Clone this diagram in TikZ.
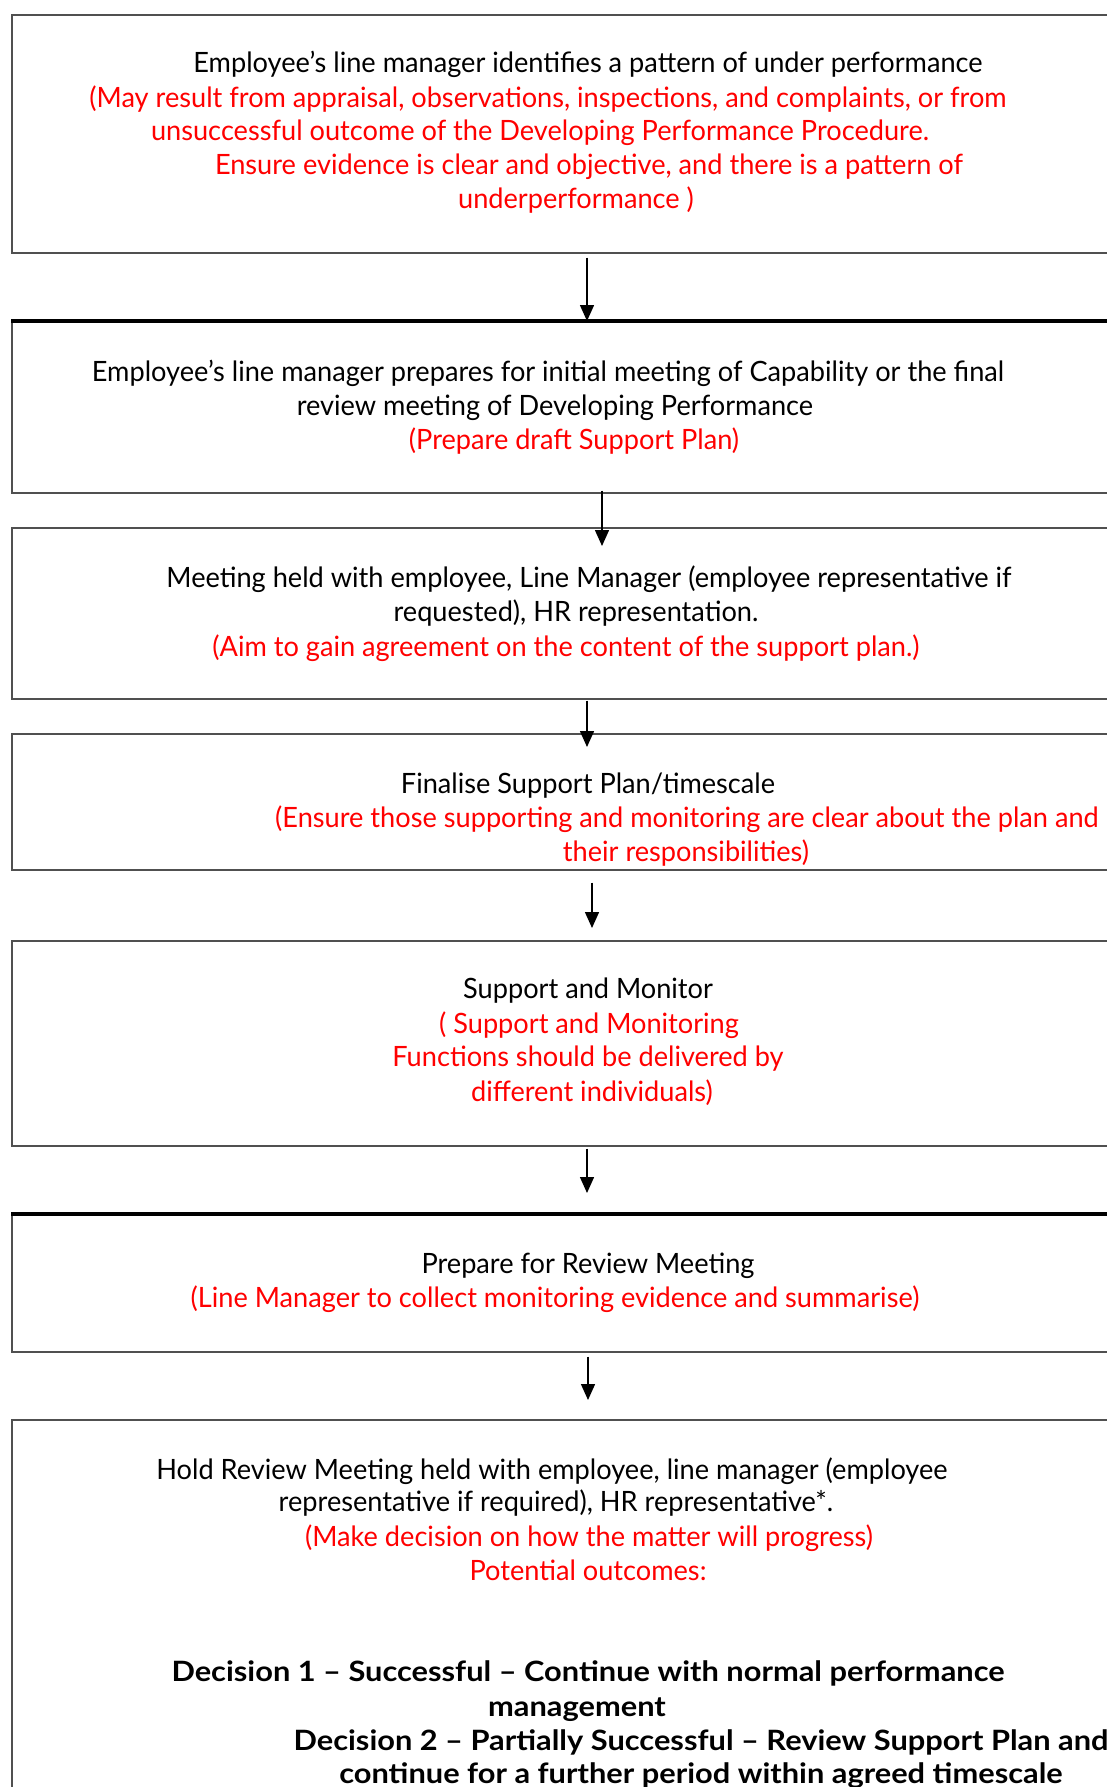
\documentclass[tikz,border=0pt]{standalone}
\usepackage{fontspec}
\setmainfont[FakeStretch=0.97, BoldFeatures={FakeStretch=1.1}]{Lato}
\usetikzlibrary{arrows.meta}
\definecolor{flowRed}{HTML}{FF0000}
\definecolor{flowEdge}{HTML}{505050}
\tikzset{
    fbox/.style={draw=flowEdge, line width=0.8pt, anchor=north west, minimum width=560pt, inner sep=0pt},
    fedge/.style={black, line width=1.6pt},
    fline/.style={-{Triangle[length=8pt, width=7pt]}, line width=0.75pt},
    ftext/.style={anchor=base, inner sep=0pt, font=\fontsize{14}{17}\selectfont},
    fbold/.style={anchor=base, inner sep=0pt, font=\fontsize{14}{17}\selectfont\bfseries}
}
\begin{document}
\begin{tikzpicture}[x=0.5pt, y=-0.5pt]
            \useasboundingbox (0,0) rectangle (1107,1787);
            \clip (0,0) rectangle (1107,1787);
            \foreach \n/\y/\h in {b1/14/119, b2/321/85.5, b3/527/85.5, b4/733/68, b5/940/102.5, b6/1214/68.5, b7/1419/220}{
                \node[fbox, minimum height=\h pt] (\n) at (11,\y) {};
            }
            \draw[fedge] (b2.north west) -- (b2.north east);
            \draw[fedge] (b6.north west) -- (b6.north east);
            \foreach \a/\b/\dx/\s/\e in {b1/b2/288/-2/0, b2/b3/295.5/1.5/-9.5, b3/b4/288/-0.5/-7, b4/b5/290.5/-6/6, b5/b6/288/-1/10.5, b6/b7/288.5/-2/9.5}{
                \draw[fline] ([shift={(\dx pt,\s pt)}]\a.south west) -- ([shift={(\dx pt,\e pt)}]\b.north west);
            }
            \foreach \x/\y/\t [count=\i] in {588/73/{Employee’s line manager identifies a pattern of under performance},
                548/381/{Employee’s line manager prepares for initial meeting of Capability or the final},
                555/415/{review meeting of Developing Performance},
                589/587/{Meeting held with employee, Line Manager (employee representative if},
                576/621/{requested), HR representation.},
                588/793/{Finalise Support Plan/timescale},
                588/998/{Support and Monitor},
                588/1273/{Prepare for Review Meeting},
                552/1479/{Hold Review Meeting held with employee, line manager (employee},
                556/1511/{representative if required), HR representative*.}}{
                \node[ftext] (blk\i) at (\x,\y) {\t};
            }
            \foreach \x/\y/\t [count=\i] in {548/108/{(May result from appraisal, observations, inspections, and complaints, or from},
                540/141/{unsuccessful outcome of the Developing Performance Procedure.},
                589/175/{Ensure evidence is clear and objective, and there is a pattern of},
                576/209/{underperformance )},
                574/449/{(Prepare draft Support Plan)},
                566/656/{(Aim to gain agreement on the content of the support plan.)},
                687/827/{(Ensure those supporting and monitoring are clear about the plan and},
                686/861/{their responsibilities)},
                589/1033/{( Support and Monitoring},
                588/1066/{Functions should be delivered by},
                592/1101/{different individuals)},
                555/1307/{(Line Manager to collect monitoring evidence and summarise)},
                589/1546/{(Make decision on how the matter will progress)},
                588/1580/{Potential outcomes:}}{
                \node[ftext, text=flowRed] (red\i) at (\x,\y) {\t};
            }
            \foreach \x/\y/\t [count=\i] in {588/1681/{Decision 1 – Successful – Continue with normal performance},
                577/1716/{management},
                701/1750/{Decision 2 – Partially Successful – Review Support Plan and},
                701/1783/{continue for a further period within agreed timescale}}{
                \node[fbold] (dec\i) at (\x,\y) {\t};
            }
\end{tikzpicture}
\end{document}
